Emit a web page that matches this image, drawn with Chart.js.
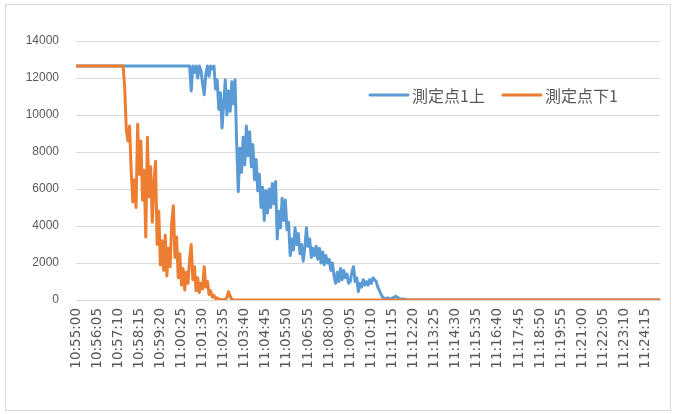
<!DOCTYPE html>
<html>
<head>
<meta charset="utf-8">
<script src="https://cdn.jsdelivr.net/npm/chart.js@4.4.1/dist/chart.umd.min.js"></script>
<style>
  html, body { margin: 0; padding: 0; background: #fff; }
  #frame {
    position: absolute; left: 5px; top: 4px;
    width: 664px; height: 405px;
    border: 1px solid #d9d9d9;
  }
</style>
</head>
<body>
<div id="frame"><canvas id="myChart" width="664" height="405"></canvas></div>
<script>
// sampling: one reading every 5 s starting at 10:55:00
const startTime = '10:55:00';
const stepSeconds = 5;
const labelEvery = 13;

const seriesNames = ['測定点1上', '測定点下1'];

// 測定点1上
const upper1 = [
  12650, 12650, 12650, 12650, 12650, 12650, 12650, 12650, 12650, 12650,
  12650, 12650, 12650, 12650, 12650, 12650, 12650, 12650, 12650, 12650,
  12650, 12650, 12650, 12650, 12650, 12650, 12650, 12650, 12650, 12650,
  12650, 12650, 12650, 12650, 12650, 12650, 12650, 12650, 12650, 12650,
  12650, 12650, 12650, 12650, 12650, 12650, 12650, 12650, 12650, 12650,
  12650, 12650, 12650, 12650, 12650, 12650, 12650, 12650, 12650, 12650,
  12650, 12650, 12650, 12650, 12650, 12650, 12650, 12650, 12650, 12650,
  12650, 11300, 12650, 12300, 12650, 12000, 12650, 12400, 11700, 11100,
  12200, 12650, 12100, 12650, 12500, 12650, 11400, 11900, 10300, 11200,
  9300, 10600, 11900, 10000, 11300, 10200, 11800, 10600, 11900, 8500,
  5850, 8200, 6900, 8800, 7300, 9400, 7800, 9100, 7200, 8400,
  6500, 7600, 5900, 6800, 5000, 6100, 4300, 5900, 4700, 6000,
  5000, 6300, 5200, 6400, 3300, 4800, 3900, 5500, 4300, 5400,
  3800, 4200, 2400, 3300, 2700, 3900, 3000, 3600, 2500, 3000,
  2100, 2800, 3900, 2900, 3300, 2300, 2800, 2400, 2900, 2200,
  2800, 2000, 2600, 1900, 2400, 2000, 2200, 1600, 2000, 1300,
  900, 1500, 1000, 1700, 1100, 1600, 1200, 1400, 900, 1000,
  1500, 1800, 1000, 1200, 450, 900, 700, 1100, 800, 1000,
  800, 1100, 900, 1200, 1100, 1000, 700, 500, 300, 150,
  90, 60, 120, 80, 50, 100, 150, 200, 150, 90,
  60, 40, 50, 30, 20, 0, 0, 0, 0, 0,
  0, 0, 0, 0, 0, 0, 0, 0, 0, 0,
  0, 0, 0, 0, 0, 0, 0, 0, 0, 0,
  0, 0, 0, 0, 0, 0, 0, 0, 0, 0,
  0, 0, 0, 0, 0, 0, 0, 0, 0, 0,
  0, 0, 0, 0, 0, 0, 0, 0, 0, 0,
  0, 0, 0, 0, 0, 0, 0, 0, 0, 0,
  0, 0, 0, 0, 0, 0, 0, 0, 0, 0,
  0, 0, 0, 0, 0, 0, 0, 0, 0, 0,
  0, 0, 0, 0, 0, 0, 0, 0, 0, 0,
  0, 0, 0, 0, 0, 0, 0, 0, 0, 0,
  0, 0, 0, 0, 0, 0, 0, 0, 0, 0,
  0, 0, 0, 0, 0, 0, 0, 0, 0, 0,
  0, 0, 0, 0, 0, 0, 0, 0, 0, 0,
  0, 0, 0, 0, 0, 0, 0, 0, 0, 0,
  0, 0, 0, 0, 0, 0, 0, 0, 0, 0,
  0
];

// 測定点下1
const lower1 = [
  12650, 12650, 12650, 12650, 12650, 12650, 12650, 12650, 12650, 12650,
  12650, 12650, 12650, 12650, 12650, 12650, 12650, 12650, 12650, 12650,
  12650, 12650, 12650, 12650, 12650, 12650, 12650, 12650, 12650, 12650,
  11500, 9200, 8600, 9400, 7000, 5300, 6500, 5000, 9500, 6800,
  8600, 5400, 7000, 3400, 8800, 5600, 7200, 4200, 6300, 7500,
  3000, 4800, 1900, 3200, 1600, 3500, 1300, 2800, 1800, 4200,
  5100, 2300, 3400, 1200, 2500, 800, 1700, 540, 1500, 900,
  2200, 3000, 1100, 1800, 500, 1200, 400, 900, 600, 1800,
  700, 1000, 300, 500, 150, 250, 80, 120, 40, 20,
  30, 10, 20, 150, 450, 200, 30, 0, 0, 0,
  0, 0, 0, 0, 0, 0, 0, 0, 0, 0,
  0, 0, 0, 0, 0, 0, 0, 0, 0, 0,
  0, 0, 0, 0, 0, 0, 0, 0, 0, 0,
  0, 0, 0, 0, 0, 0, 0, 0, 0, 0,
  0, 0, 0, 0, 0, 0, 0, 0, 0, 0,
  0, 0, 0, 0, 0, 0, 0, 0, 0, 0,
  0, 0, 0, 0, 0, 0, 0, 0, 0, 0,
  0, 0, 0, 0, 0, 0, 0, 0, 0, 0,
  0, 0, 0, 0, 0, 0, 0, 0, 0, 0,
  0, 0, 0, 0, 0, 0, 0, 0, 0, 0,
  0, 0, 0, 0, 0, 0, 0, 0, 0, 0,
  0, 0, 0, 0, 0, 0, 0, 0, 0, 0,
  0, 0, 0, 0, 0, 0, 0, 0, 0, 0,
  0, 0, 0, 0, 0, 0, 0, 0, 0, 0,
  0, 0, 0, 0, 0, 0, 0, 0, 0, 0,
  0, 0, 0, 0, 0, 0, 0, 0, 0, 0,
  0, 0, 0, 0, 0, 0, 0, 0, 0, 0,
  0, 0, 0, 0, 0, 0, 0, 0, 0, 0,
  0, 0, 0, 0, 0, 0, 0, 0, 0, 0,
  0, 0, 0, 0, 0, 0, 0, 0, 0, 0,
  0, 0, 0, 0, 0, 0, 0, 0, 0, 0,
  0, 0, 0, 0, 0, 0, 0, 0, 0, 0,
  0, 0, 0, 0, 0, 0, 0, 0, 0, 0,
  0, 0, 0, 0, 0, 0, 0, 0, 0, 0,
  0, 0, 0, 0, 0, 0, 0, 0, 0, 0,
  0, 0, 0, 0, 0, 0, 0, 0, 0, 0,
  0
];

const yTicks = [0, 2000, 4000, 6000, 8000, 10000, 12000, 14000];

const colors = ['#5b9bd5', '#ed7d31'];

// hh:mm:ss for every sample
function pad(n) { return String(n).padStart(2, '0'); }
const [h0, m0, s0] = startTime.split(':').map(Number);
const times = upper1.map((_, i) => {
  const t = h0 * 3600 + m0 * 60 + s0 + i * stepSeconds;
  return pad(Math.floor(t / 3600)) + ':' + pad(Math.floor(t / 60) % 60) + ':' + pad(t % 60);
});

// legend drawn inside the plot area, upper right
const plotLegend = {
  id: 'plotLegend',
  afterDatasetsDraw(chart, args, opts) {
    const ctx = chart.ctx;
    ctx.save();
    ctx.font = opts.font;
    ctx.textBaseline = 'middle';
    ctx.textAlign = 'left';
    let x = opts.x;
    chart.data.datasets.forEach((ds) => {
      ctx.strokeStyle = ds.borderColor;
      ctx.lineWidth = 3;
      ctx.lineCap = 'round';
      ctx.beginPath();
      ctx.moveTo(x, opts.y);
      ctx.lineTo(x + opts.lineLength, opts.y);
      ctx.stroke();
      ctx.fillStyle = opts.color;
      ctx.fillText(ds.label, x + opts.lineLength + 4, opts.y + 1);
      x += opts.lineLength + 4 + ctx.measureText(ds.label).width + opts.gap;
    });
    ctx.restore();
  }
};

const ctx = document.getElementById('myChart');
new Chart(ctx, {
  type: 'line',
  data: {
    labels: times,
    datasets: [
      {
        label: seriesNames[0],
        data: upper1,
        borderColor: colors[0],
        backgroundColor: colors[0],
        borderWidth: 3,
        pointRadius: 0,
        tension: 0,
        borderJoinStyle: 'round',
        order: 1,
      },
      {
        label: seriesNames[1],
        data: lower1,
        borderColor: colors[1],
        backgroundColor: colors[1],
        borderWidth: 3,
        pointRadius: 0,
        tension: 0,
        borderJoinStyle: 'round',
        order: 0,
      },
    ],
  },
  options: {
    responsive: false,
    animation: false,
    layout: { padding: { left: 12, right: 8, top: 36, bottom: 0 } },
    plugins: {
      legend: { display: false },
      tooltip: { enabled: false },
      plotLegend: {
        x: 364, y: 90, lineLength: 38, gap: 18,
        font: '16px "Noto Sans CJK JP"',
        color: '#595959',
      },
    },
    scales: {
      x: {
        offset: false,
        grid: { display: false, drawTicks: false },
        border: { display: true, color: '#d9d9d9', width: 1 },
        afterFit(scale) { scale.height = 110; },
        ticks: {
          autoSkip: false,
          minRotation: 90,
          maxRotation: 90,
          padding: 8,
          color: '#595959',
          font: { family: '"DejaVu Sans"', size: 13.5 },
          callback(value, index) {
            return index % labelEvery === 0 ? times[index] : null;
          },
        },
      },
      y: {
        min: yTicks[0],
        max: yTicks[yTicks.length - 1],
        afterFit(scale) { scale.width = 58; },
        afterBuildTicks(scale) { scale.ticks = yTicks.map((v) => ({ value: v })); },
        grid: { color: '#d9d9d9', lineWidth: 1, drawTicks: false },
        border: { display: false },
        ticks: {
          padding: 17,
          color: '#595959',
          font: { family: '"Liberation Sans"', size: 12 },
          callback(value) { return String(value); },
        },
      },
    },
  },
  plugins: [plotLegend],
});
</script>
</body>
</html>
